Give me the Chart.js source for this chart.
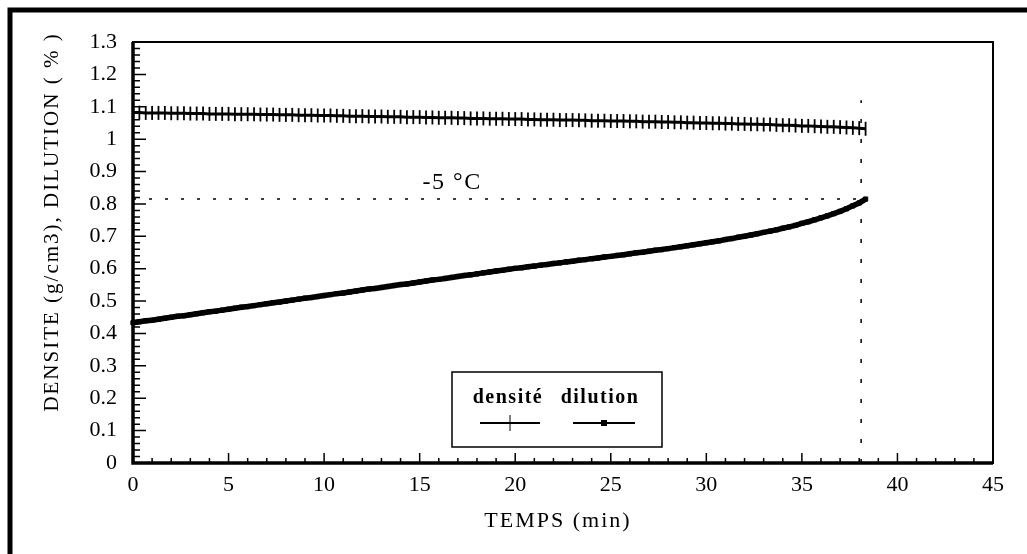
<!DOCTYPE html>
<html>
<head>
<meta charset="utf-8">
<script src="https://cdn.jsdelivr.net/npm/chart.js@4"></script>
<style>
  html, body { margin: 0; padding: 0; background: #fff; }
  #chart { display: block; }
</style>
</head>
<body>
<canvas id="chart" width="1027" height="554"></canvas>
<script>
/* data: one point every 20 s */
var tempsSec = [
  0,20,40,60,80,100,120,140,160,180,200,220,240,260,280,300,320,340,360,380,
  400,420,440,460,480,500,520,540,560,580,600,620,640,660,680,700,720,740,760,780,
  800,820,840,860,880,900,920,940,960,980,1000,1020,1040,1060,1080,1100,1120,1140,1160,1180,
  1200,1220,1240,1260,1280,1300,1320,1340,1360,1380,1400,1420,1440,1460,1480,1500,1520,1540,1560,1580,
  1600,1620,1640,1660,1680,1700,1720,1740,1760,1780,1800,1820,1840,1860,1880,1900,1920,1940,1960,1980,
  2000,2020,2040,2060,2080,2100,2120,2140,2160,2180,2200,2220,2240,2260,2280,2300
];
var densite = [
  1.082,1.082,1.081, 1.081,1.081,1.081, 1.080,1.080,1.080, 1.079,1.079,1.079,
  1.078,1.078,1.078, 1.078,1.077,1.077, 1.077,1.077,1.076, 1.076,1.076,1.075,
  1.075,1.075,1.074, 1.074,1.074,1.073, 1.073,1.073,1.072, 1.072,1.071,1.071,
  1.071,1.070,1.070, 1.070,1.069,1.069, 1.069,1.068,1.068, 1.068,1.067,1.067,
  1.066,1.066,1.066, 1.065,1.065,1.064, 1.064,1.064,1.063, 1.063,1.063,1.062,
  1.062,1.062,1.061, 1.061,1.060,1.060, 1.060,1.059,1.059, 1.059,1.058,1.058,
  1.057,1.057,1.057, 1.056,1.056,1.056, 1.055,1.055,1.054, 1.054,1.054,1.053,
  1.053,1.052,1.052, 1.051,1.051,1.050, 1.050,1.049,1.049, 1.048,1.048,1.047,
  1.047,1.046,1.046, 1.045,1.045,1.044, 1.043,1.043,1.042, 1.041,1.041,1.040,
  1.039,1.038,1.038, 1.037,1.036,1.035, 1.034,1.032
];
var dilution = [
  0.433,0.436,0.439, 0.441,0.444,0.447, 0.450,0.453,0.455, 0.458,0.461,0.464,
  0.467,0.469,0.472, 0.475,0.478,0.481, 0.483,0.486,0.489, 0.492,0.495,0.497,
  0.500,0.503,0.506, 0.509,0.511,0.514, 0.517,0.520,0.523, 0.525,0.528,0.531,
  0.534,0.537,0.539, 0.542,0.545,0.548, 0.551,0.553,0.556, 0.559,0.562,0.565,
  0.567,0.570,0.573, 0.576,0.579,0.581, 0.584,0.587,0.590, 0.593,0.595,0.598,
  0.601,0.603,0.606, 0.608,0.611,0.613, 0.616,0.618,0.621, 0.623,0.626,0.628,
  0.631,0.633,0.636, 0.638,0.641,0.643, 0.646,0.649,0.651, 0.654,0.657,0.659,
  0.662,0.665,0.668, 0.671,0.674,0.677, 0.680,0.683,0.686, 0.690,0.693,0.697,
  0.700,0.704,0.708, 0.712,0.716,0.720, 0.725,0.729,0.734, 0.740,0.745,0.751,
  0.757,0.763,0.770, 0.777,0.785,0.794, 0.803,0.815
];

// end of run (-5 °C) : reference lines
var finTemps = 38.1;
var finDilution = 0.815;
var haut = 1.12;
var etiquette = '-5 °C';

var xTicks = [0, 5, 10, 15, 20, 25, 30, 35, 40, 45];
var yTicks = [0, 0.1, 0.2, 0.3, 0.4, 0.5, 0.6, 0.7, 0.8, 0.9, 1, 1.1, 1.2, 1.3];

var serif = '"Liberation Serif", "DejaVu Serif", serif';

function pts(ys) {
  return tempsSec.map(function (s, i) { return { x: s / 60, y: ys[i] }; });
}

/* frame, inner ticks, titles, label and legend */
var decor = {
  id: 'decor',
  afterDraw: function (chart) {
    var c = chart.ctx, a = chart.chartArea;
    var xs = chart.scales.x, ys = chart.scales.y;
    c.save();
    c.strokeStyle = '#000';
    c.fillStyle = '#000';

    // outer page frame
    c.lineWidth = 5;
    c.beginPath();
    c.moveTo(10, 554); c.lineTo(10, 10); c.lineTo(1027, 10);
    c.stroke();

    // plot frame
    c.lineWidth = 2;
    c.strokeRect(a.left, a.top, a.right - a.left, a.bottom - a.top);
    c.lineWidth = 3.5;
    c.beginPath();
    c.moveTo(a.left, a.top); c.lineTo(a.left, a.bottom); c.lineTo(a.right, a.bottom);
    c.stroke();

    // inner ticks
    c.lineWidth = 1.5;
    c.beginPath();
    for (var k = 1; k < 65; k++) {
      var py = ys.getPixelForValue(k / 50);
      c.moveTo(a.left, py); c.lineTo(a.left + (k % 5 === 0 ? 13 : 7), py);
    }
    for (var j = 1; j < 45; j++) {
      var px = xs.getPixelForValue(j);
      c.moveTo(px, a.bottom); c.lineTo(px, a.bottom - (j % 5 === 0 ? 10 : 5));
    }
    c.stroke();

    // axis titles
    c.font = '21px ' + serif;
    c.letterSpacing = '2px';
    c.textAlign = 'center';
    c.textBaseline = 'middle';
    c.save();
    c.translate(52, 222);
    c.rotate(-Math.PI / 2);
    c.fillText('DENSITE (g/cm3), DILUTION ( % )', 0, 0);
    c.restore();
    c.font = '22px ' + serif;
    c.fillText('TEMPS (min)', 558, 521);

    // -5 °C label
    c.font = '24px ' + serif;
    c.letterSpacing = '1.5px';
    c.fillText(etiquette, xs.getPixelForValue(16.7), ys.getPixelForValue(0.864));

    // legend box
    c.lineWidth = 1.5;
    c.strokeRect(452, 372, 210, 75);
    c.font = 'bold 20px ' + serif;
    c.letterSpacing = '1.5px';
    c.fillText('densité', 508, 398);
    c.fillText('dilution', 600, 398);
    c.lineWidth = 2;
    c.beginPath();
    c.moveTo(480, 423); c.lineTo(540, 423);
    c.moveTo(573, 423); c.lineTo(635, 423);
    c.stroke();
    c.lineWidth = 1;
    c.beginPath();
    c.moveTo(510, 415); c.lineTo(510, 431);
    c.stroke();
    c.fillRect(601, 420, 6, 6);
    c.restore();
  }
};

new Chart(document.getElementById('chart').getContext('2d'), {
  type: 'line',
  data: {
    datasets: [{
      label: 'densité',
      data: pts(densite),
      borderColor: '#000',
      borderWidth: 3,
      pointStyle: 'line',
      rotation: 90,
      pointRadius: 7,
      pointBorderWidth: 1.8,
      pointBorderColor: '#000',
      tension: 0,
      clip: false
    }, {
      label: 'dilution',
      data: pts(dilution),
      borderColor: '#000',
      borderWidth: 5.5,
      pointStyle: 'rect',
      pointRadius: 3,
      pointBackgroundColor: '#000',
      pointBorderColor: '#000',
      pointBorderWidth: 1,
      tension: 0,
      clip: false
    }, {
      label: 'palier',
      data: [{ x: 0, y: finDilution }, { x: finTemps, y: finDilution }],
      borderColor: '#000',
      borderWidth: 1.5,
      borderDash: [3, 13],
      pointRadius: 0
    }, {
      label: 'fin',
      data: [{ x: finTemps, y: 0 }, { x: finTemps, y: haut }],
      borderColor: '#000',
      borderWidth: 1.5,
      borderDash: [4, 16],
      pointRadius: 0
    }]
  },
  options: {
    responsive: false,
    animation: false,
    devicePixelRatio: 1,
    layout: { padding: { left: 0, top: 42, right: 34, bottom: 0 } },
    plugins: { legend: { display: false }, tooltip: { enabled: false } },
    scales: {
      x: {
        type: 'linear',
        min: 0, max: 45,
        afterFit: function (s) { s.height = 91; },
        afterBuildTicks: function (s) { s.ticks = xTicks.map(function (v) { return { value: v }; }); },
        grid: { display: false, drawTicks: false },
        border: { display: false },
        ticks: { color: '#000', padding: 9, font: { family: serif, size: 22 }, maxRotation: 0 }
      },
      y: {
        type: 'linear',
        min: 0, max: 1.3,
        afterFit: function (s) { s.width = 133; },
        afterBuildTicks: function (s) { s.ticks = yTicks.map(function (v) { return { value: v }; }); },
        grid: { display: false, drawTicks: false },
        border: { display: false },
        ticks: {
          color: '#000', padding: 16, font: { family: serif, size: 22 },
          callback: function (v) { return String(Number(v.toFixed(1))); }
        }
      }
    }
  },
  plugins: [decor]
});
</script>
</body>
</html>
